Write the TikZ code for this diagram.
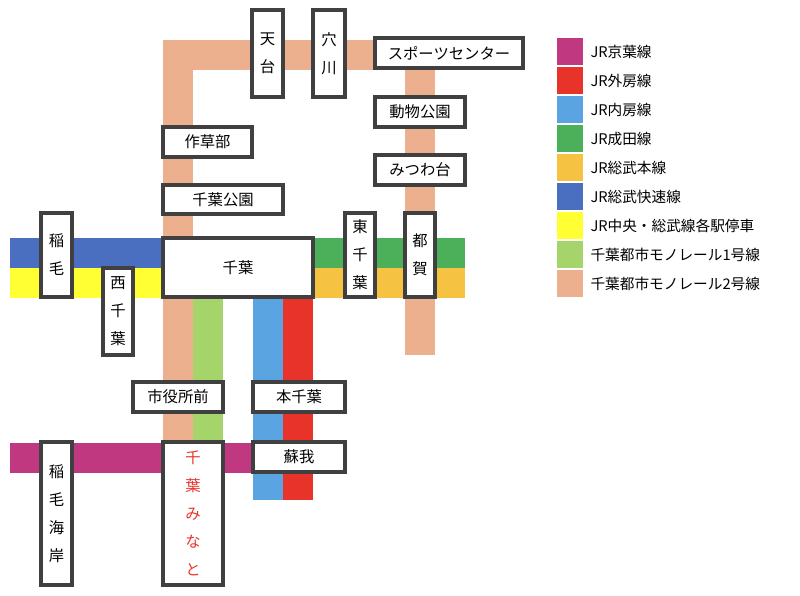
\documentclass[tikz,border=0pt]{standalone}
\usepackage{fontspec}
\setmainfont{Noto Sans CJK JP}
\definecolor{keiyo}{RGB}{192,56,127}
\definecolor{sotobo}{RGB}{232,51,42}
\definecolor{uchibo}{RGB}{90,165,225}
\definecolor{narita}{RGB}{76,175,90}
\definecolor{sobuhon}{RGB}{245,194,66}
\definecolor{sobukai}{RGB}{74,111,192}
\definecolor{chuo}{RGB}{255,255,51}
\definecolor{mono1}{RGB}{165,212,106}
\definecolor{mono2}{RGB}{237,176,143}
\definecolor{frame}{RGB}{64,64,64}
\tikzset{every picture/.style={line width=0.75pt}}
\tikzset{stn/.style 2 args={draw=frame,line width=2.4pt,fill=white,inner sep=0pt,align=center,
  minimum width=#1*0.75pt,minimum height=#2*0.75pt,font=\fontsize{11.5}{21}\selectfont}}
\tikzset{key/.style={anchor=west,inner sep=0pt,font=\fontsize{11}{13}\selectfont}}
\begin{document}
\begin{tikzpicture}[x=0.75pt,y=0.75pt,yscale=-1,xscale=1]
\useasboundingbox (0,0) rectangle (800,596);

%Lines
\fill[mono2] (163,40) rectangle (193,440);
\fill[mono2] (163,40) rectangle (435,70);
\fill[mono2] (405,40) rectangle (435,355);
\fill[mono1] (193,297) rectangle (223,440);
\fill[sobukai] (10,238) rectangle (163,268);
\fill[chuo] (10,268) rectangle (163,298);
\fill[narita] (313,238) rectangle (465,268);
\fill[sobuhon] (313,268) rectangle (465,298);
\fill[uchibo] (253,297) rectangle (283,500);
\fill[sotobo] (283,297) rectangle (313,500);
\fill[keiyo] (10,443) rectangle (255,473);

%Stations
\node[stn={31}{87}] (tendai) at (267.5,53.5) {天\\台};
\node[stn={32}{87}] (anagawa) at (329,53.5) {穴\\川};
\node[stn={148}{30}] (sports) at (449,53) {スポーツセンター};
\node[stn={90}{30}] (dobutsu) at (420,112) {動物公園};
\node[stn={90}{30}] (mitsuwa) at (420,170) {みつわ台};
\node[stn={89}{30}] (sakusabe) at (207.5,142) {作草部};
\node[stn={120}{29}] (chibakoen) at (223,199.5) {千葉公園};
\node[stn={31}{84}] (inage) at (56.5,255) {稲\\毛};
\node[stn={150}{59}] (chiba) at (238,267.5) {千葉};
\node[stn={30}{87}] (nishichiba) at (118,311.5) {西\\千\\葉};
\node[stn={30}{84}] (higashichiba) at (360,255) {東\\千\\葉};
\node[stn={30}{84}] (toga) at (420,255) {都\\賀};
\node[stn={90}{30}] (shiyakusho) at (178,397) {市役所前};
\node[stn={92}{30}] (honchiba) at (299,397) {本千葉};
\node[stn={92}{30}] (soga) at (299,457) {蘇我};
\node[stn={31}{143}] (inagekaigan) at (56.5,513.5) {稲\\毛\\海\\岸};
\node[stn={60}{143},text=sotobo] (chibaminato) at (193,513.5) {千\\葉\\み\\な\\と};

%Legend
\foreach \c/\t [count=\i] in {keiyo/JR京葉線,sotobo/JR外房線,uchibo/JR内房線,narita/JR成田線,sobuhon/JR総武本線,sobukai/JR総武快速線,chuo/JR中央・総武線各駅停車,mono1/千葉都市モノレール1号線,mono2/千葉都市モノレール2号線}{
  \fill[\c] (557,{38+(\i-1)*29}) rectangle (583,{65+(\i-1)*29});
  \node[key] (key\i) at (590,{51.5+(\i-1)*29}) {\t};
}
\end{tikzpicture}
\end{document}
